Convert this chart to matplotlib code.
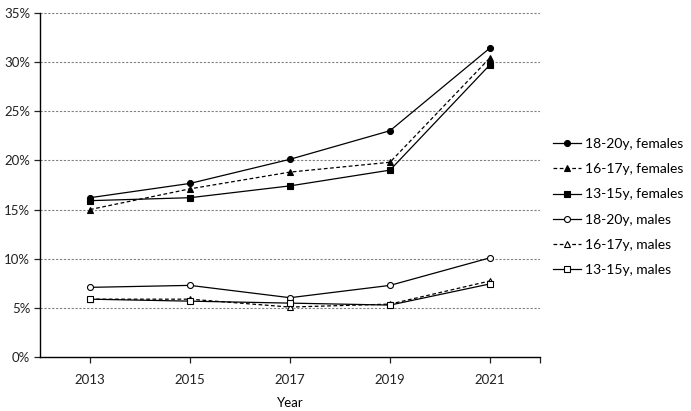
import matplotlib
matplotlib.use("Agg")
import matplotlib.pyplot as plt
from matplotlib.ticker import FuncFormatter, FixedLocator

years = [2013, 2015, 2017, 2019, 2021]
labels = ["18-20y, females", "16-17y, females", "13-15y, females",
          "18-20y, males", "16-17y, males", "13-15y, males"]
f_18_20 = [16.2, 17.65, 20.1, 23.0, 31.4]
f_16_17 = [15.0, 17.1, 18.8, 19.8, 30.4]
f_13_15 = [15.9, 16.2, 17.4, 19.0, 29.7]
m_18_20 = [7.1, 7.3, 6.05, 7.3, 10.1]
m_16_17 = [5.9, 5.9, 5.1, 5.4, 7.75]
m_13_15 = [5.9, 5.7, 5.5, 5.3, 7.45]

plt.rcParams['font.family'] = ['Lato', 'DejaVu Sans']

fig = plt.figure(figsize=(6.91, 4.11), dpi=100)
ax = fig.add_axes([40/691, 1-357.3/411, 500/691, (357.3-12.5)/411])

dash = (0, (3, 2))
series = [
    (f_18_20, 'o', '-', 'black'),
    (f_16_17, '^', dash, 'black'),
    (f_13_15, 's', '-', 'black'),
    (m_18_20, 'o', '-', 'white'),
    (m_16_17, '^', dash, 'white'),
    (m_13_15, 's', '-', 'white'),
]
for (vals, mk, ls, fc), lab in zip(series, labels):
    ax.plot(years, vals, marker=mk, linestyle=ls, color='black', lw=0.9,
            markersize=4.3, markerfacecolor=fc, markeredgecolor='black',
            markeredgewidth=0.8, label=lab, zorder=3)

ax.set_xlim(2012, 2022)
ax.set_ylim(0, 35)
ax.set_xticks(years)
ax.xaxis.set_minor_locator(FixedLocator([2022]))
ax.set_yticks(range(0, 36, 5))
ax.yaxis.set_major_formatter(FuncFormatter(lambda v, p: f"{int(v)}%"))
for y in range(5, 36, 5):
    ax.axhline(y, color='#808080', lw=0.8, ls=(0, (2, 1.5)), zorder=1)

for s in ['top', 'right']:
    ax.spines[s].set_visible(False)
for s in ['left', 'bottom']:
    ax.spines[s].set_linewidth(1.0)
    ax.spines[s].set_color('black')

ax.tick_params(axis='both', which='both', direction='out', length=4, width=0.9,
               labelsize=9.5, colors='#222222')
ax.tick_params(axis='x', pad=8)
ax.tick_params(axis='y', pad=3)
ax.set_xlabel("Year", fontsize=9.5, labelpad=8)

leg = ax.legend(loc='center left', bbox_to_anchor=(553/691, 1-207/411),
                bbox_transform=fig.transFigure, frameon=False, fontsize=10,
                handlelength=2.0, handletextpad=0.3, labelspacing=0.95,
                borderaxespad=0, borderpad=0)

fig.savefig("out.png", dpi=100)
